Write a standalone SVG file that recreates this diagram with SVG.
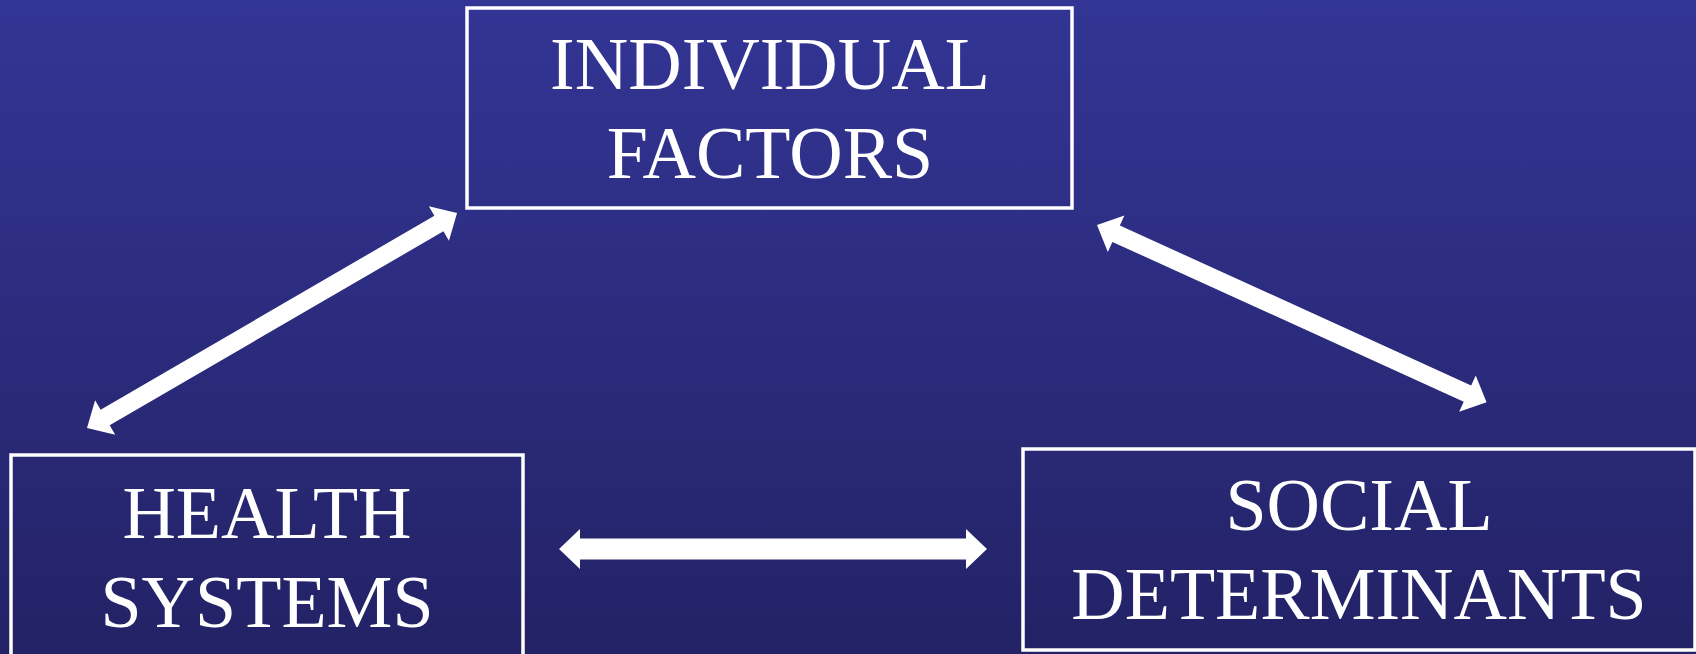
<svg xmlns="http://www.w3.org/2000/svg" width="1696" height="654" viewBox="0 0 1696 654">
  <defs>
    <linearGradient id="bg" x1="0" y1="0" x2="0" y2="1">
      <stop offset="0" stop-color="#333595"/>
      <stop offset="1" stop-color="#232266"/>
    </linearGradient>
    <!-- double-headed block arrow, 428 long, along +x -->
    <polygon id="arrowThin" points="0,0 21,-20 21,-9 407,-9 407,-20 428,0 407,20 407,9 21,9 21,20"/>
    <polygon id="arrowWide" points="0,0 21,-20 21,-10.5 407,-10.5 407,-20 428,0 407,20 407,10.5 21,10.5 21,20"/>
  </defs>
  <style>
    .box { fill: none; stroke: #ffffff; stroke-width: 3.5; }
    .label { font-family: "Liberation Serif", "Times New Roman", serif; font-size: 74px; fill: #ffffff; text-anchor: middle; }
    .conn { fill: #ffffff; }
  </style>

  <rect x="0" y="0" width="1696" height="654" fill="url(#bg)"/>

  <g id="connectors" class="conn">
    <use href="#arrowThin" transform="translate(87,428) rotate(-30.16)"/>
    <use href="#arrowThin" transform="translate(1097,225) rotate(24.47)"/>
    <use href="#arrowWide" transform="translate(559,549)"/>
  </g>

  <g id="individual-factors">
    <rect class="box" x="467" y="8" width="605" height="200"/>
    <text class="label" x="770" y="89">INDIVIDUAL</text>
    <text class="label" x="770" y="178">FACTORS</text>
  </g>

  <g id="health-systems">
    <rect class="box" x="11" y="455" width="512" height="205"/>
    <text class="label" x="267" y="538">HEALTH</text>
    <text class="label" x="267" y="627">SYSTEMS</text>
  </g>

  <g id="social-determinants">
    <rect class="box" x="1023" y="449" width="672" height="201"/>
    <text class="label" x="1359" y="530">SOCIAL</text>
    <text class="label" x="1359" y="619">DETERMINANTS</text>
  </g>
</svg>
